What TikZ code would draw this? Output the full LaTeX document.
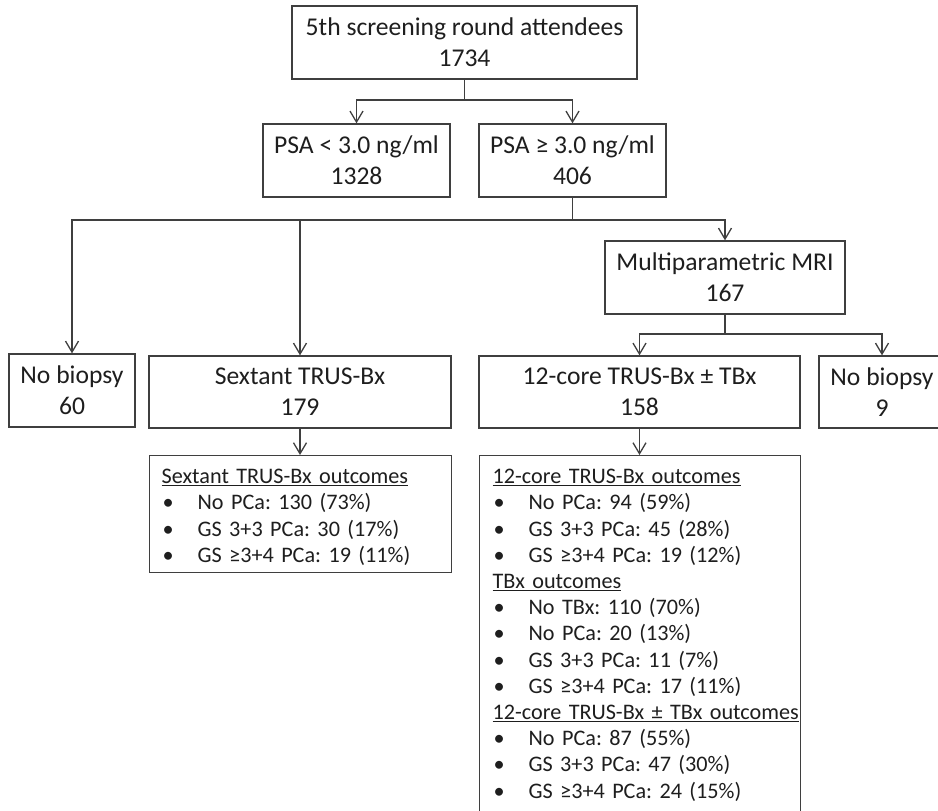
\documentclass[tikz,border=0pt]{standalone}
\usepackage{fontspec}
\setmainfont{Carlito}
\usetikzlibrary{arrows.meta}
\definecolor{ink}{HTML}{3F3F3F}
\definecolor{txt}{HTML}{1E1E1E}
% bullet entry of an outcome list
\newcommand{\outitem}[1]{\makebox[36pt][l]{\hspace{1pt}•}#1}
\begin{document}
\frenchspacing
\begin{tikzpicture}[x=1pt,y=-1pt,
  box/.style={draw=ink, line width=1.3pt, fill=white, inner sep=0pt, align=center,
    text=txt, font=\fontsize{25.6}{31}\selectfont},
  outbox/.style={draw=ink, line width=1.3pt, fill=white, inner xsep=12pt, inner ysep=7pt,
    anchor=north west, align=left, text=txt, font=\fontsize{22.2}{26.2}\selectfont},
  link/.style={draw=ink, line width=1.3pt},
  flow/.style={link, -{Straight Barb[length=11pt,width=13pt]}}]
\useasboundingbox (0,0) rectangle (938,811);
\clip (0,0) rectangle (938,811);

% screening levels
\node[box, minimum width=345pt, minimum height=73pt] (top) at (464.5,42.5)
  {5th screening round attendees\\1734};
\node[box, minimum width=187pt, minimum height=73pt] (psalo) at (356.5,160.5)
  {PSA < 3.0 ng/ml\\1328};
\node[box, minimum width=187pt, minimum height=73pt] (psahi) at (572.5,160.5)
  {PSA ≥ 3.0 ng/ml\\406};
\node[box, minimum width=240pt, minimum height=73pt] (mri) at (725,277.5)
  {Multiparametric MRI\\167};

% biopsy arms
\node[box, minimum width=126pt, minimum height=73pt] (nob1) at (72,390.5)
  {No biopsy\\60};
\node[box, minimum width=302pt, minimum height=72pt] (sext) at (300,392)
  {Sextant TRUS-Bx\\179};
\node[box, minimum width=321pt, minimum height=72pt] (core) at (639.5,392)
  {12-core TRUS-Bx ± TBx\\158};
\node[box, minimum width=126pt, minimum height=72pt] (nob2) at (882,392)
  {No biopsy\\9};

% outcome lists
\node[outbox, text width=278pt] (sextout) at (149,455)
  {\rule{0pt}{21pt}\underline{Sextant TRUS-Bx outcomes}\\
   \outitem{No PCa: 130 (73\%)}\\
   \outitem{GS 3+3 PCa: 30 (17\%)}\\
   \outitem{GS ≥3+4 PCa: 19 (11\%)}};
\node[outbox, inner xsep=13pt, text width=295pt] (coreout) at (479,455)
  {\rule{0pt}{21pt}\underline{12-core TRUS-Bx outcomes}\\
   \outitem{No PCa: 94 (59\%)}\\
   \outitem{GS 3+3 PCa: 45 (28\%)}\\
   \outitem{GS ≥3+4 PCa: 19 (12\%)}\\
   \underline{TBx outcomes}\\
   \outitem{No TBx: 110 (70\%)}\\
   \outitem{No PCa: 20 (13\%)}\\
   \outitem{GS 3+3 PCa: 11 (7\%)}\\
   \outitem{GS ≥3+4 PCa: 17 (11\%)}\\
   \underline{12-core TRUS-Bx ± TBx outcomes}\\
   \outitem{No PCa: 87 (55\%)}\\
   \outitem{GS 3+3 PCa: 47 (30\%)}\\
   \outitem{GS ≥3+4 PCa: 24 (15\%)}\rule[-16pt]{0pt}{16pt}};

% branch points
\coordinate (j1) at (464.5,100);
\coordinate (j2) at (572.5,220);
\coordinate (j3) at (725,334);

% connectors
\draw[link] (top.south) -- (j1);
\draw[flow] (j1) -| (psalo.north);
\draw[flow] (j1) -| (psahi.north);

\draw[link] (psahi.south) -- (j2);
\draw[flow] (j2) -| (nob1.north);
\draw[flow] (j2) -| (sext.north);
\draw[flow] (j2) -| (mri.north);

\draw[link] (mri.south) -- (j3);
\draw[flow] (j3) -| (core.north);
\draw[flow] (j3) -| (nob2.north);

\draw[flow] (sext.south) -- (sextout.north -| sext.south);
\draw[flow] (core.south) -- (coreout.north -| core.south);
\end{tikzpicture}
\end{document}
